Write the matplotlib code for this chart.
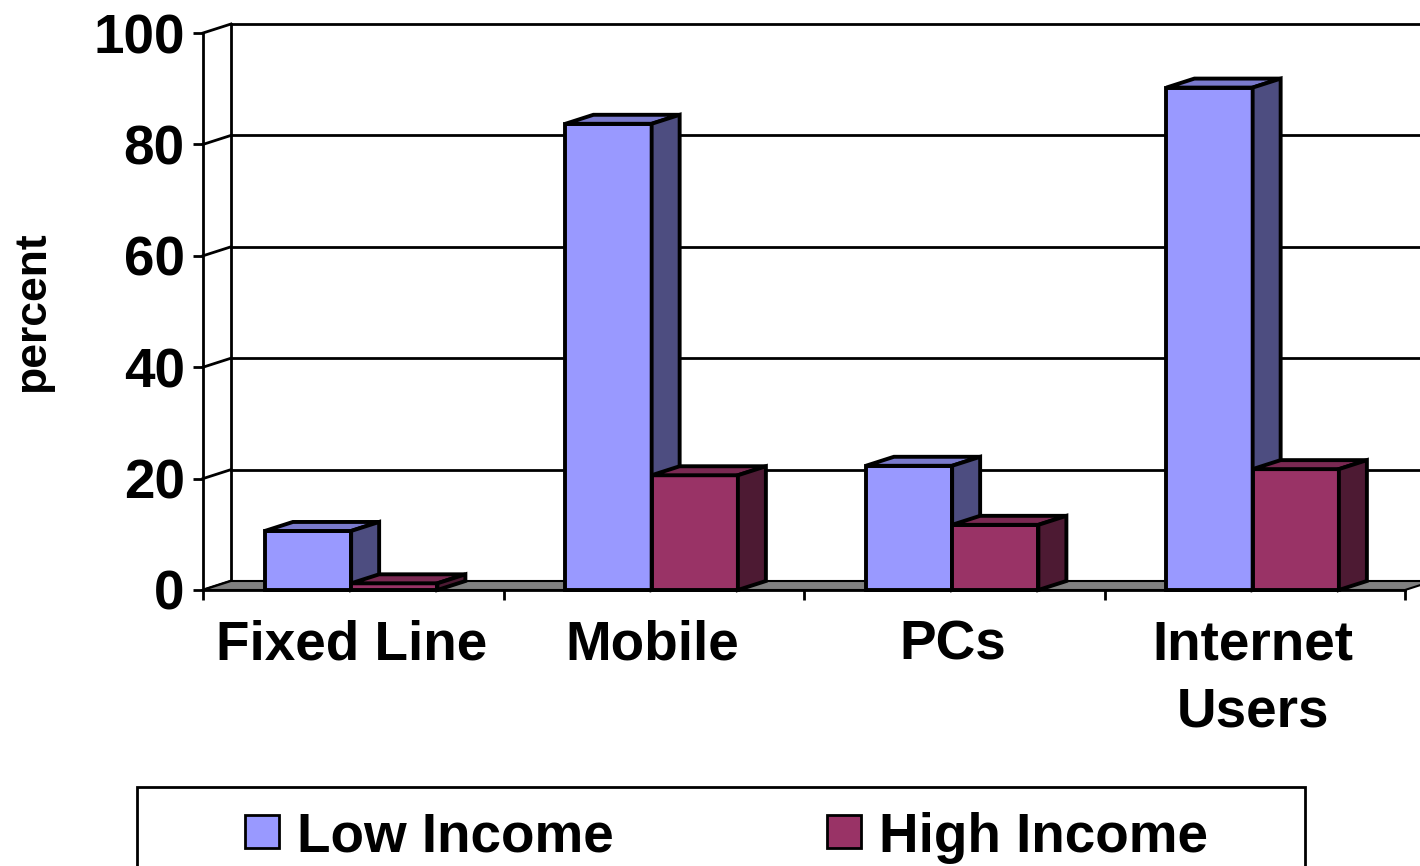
import numpy as np
from matplotlib import pyplot as plt
from matplotlib.patches import Polygon, Rectangle

plt.rcParams['font.family'] = 'sans-serif'
plt.rcParams['font.sans-serif'] = ['Liberation Sans']
plt.rcParams['font.weight'] = 'bold'
plt.rcParams['axes.labelweight'] = 'bold'

# data
categories = ["Fixed Line", "Mobile", "PCs", "Internet\nUsers"]
series_names = ["Low Income", "High Income"]
low_income = [10.6, 83.7, 22.3, 90.2]
high_income = [1.2, 20.6, 11.7, 21.7]
y_ticks = [0, 20, 40, 60, 80, 100]

front_colors = ["#9999FF", "#993366"]
top_colors = ["#7A7ACC", "#7A2952"]
side_colors = ["#4D4D80", "#4D1A33"]

W, H = 1420, 866
fig = plt.figure(figsize=(W / 100, H / 100), dpi=100)
ax = fig.add_axes([203 / W, 1 - 590 / H, (1405 - 203) / W, (590 - 33) / H])
ax.set_xlim(0, len(categories))
ax.set_ylim(0, 100)

# depth of the fake 3d box, in data units
dx = 28 / ((1405 - 203) / len(categories))
dy = 9 / ((590 - 33) / 100)
n = len(categories)
lw = 2.0
fs = 39.5

# back wall + left wall
for v in y_ticks:
    ax.plot([dx, n + dx + 0.2], [v + dy, v + dy], color='black', lw=lw, clip_on=False, zorder=1)
    ax.plot([0, dx], [v, v + dy], color='black', lw=lw, clip_on=False, zorder=1)
ax.plot([dx, dx], [dy, 100 + dy], color='black', lw=lw, clip_on=False, zorder=1)

# floor
ax.add_patch(Polygon([(0, 0), (n, 0), (n + dx, dy), (dx, dy)], closed=True,
                     fc='#808080', ec='black', lw=1.5, clip_on=False, zorder=2))

# bars
bar_w = 0.287
start = 0.206
for i in range(n):
    for s, vals in enumerate([low_income, high_income]):
        x0 = i + start + s * bar_w
        x1 = x0 + bar_w
        h = vals[i]
        kw = dict(closed=True, ec='black', lw=2.8, joinstyle='miter', clip_on=False, zorder=3)
        ax.add_patch(Polygon([(x0, 0), (x1, 0), (x1, h), (x0, h)], fc=front_colors[s], **kw))
        ax.add_patch(Polygon([(x0, h), (x1, h), (x1 + dx, h + dy), (x0 + dx, h + dy)], fc=top_colors[s], **kw))
        ax.add_patch(Polygon([(x1, 0), (x1 + dx, dy), (x1 + dx, h + dy), (x1, h)], fc=side_colors[s], **kw))

# axes
ax.spines['top'].set_visible(False)
ax.spines['right'].set_visible(False)
ax.spines['left'].set_linewidth(lw)
ax.spines['bottom'].set_linewidth(lw)
ax.spines['left'].set_zorder(4)
ax.spines['bottom'].set_zorder(4)

ax.set_yticks(y_ticks)
ax.tick_params(axis='y', direction='out', length=7.2, width=lw, pad=6, labelsize=fs)
ax.set_xticks(range(n + 1))
ax.set_xticklabels([])
ax.tick_params(axis='x', which='major', direction='out', length=7.2, width=lw)
ax.set_xticks([i + 0.495 for i in range(n)], minor=True)
ax.set_xticklabels(categories, minor=True, fontsize=fs, linespacing=1.38)
ax.tick_params(axis='x', which='minor', length=0, pad=21)

ax.set_ylabel("percent", fontsize=32, fontweight='bold', va='center')
ax.yaxis.set_label_coords(-0.142, 0.5)

# legend box, cut off at the bottom as in the original
fig.add_artist(Rectangle((137 / W, -0.1), (1305 - 137) / W, 0.1 + 1 - 787 / H,
                         transform=fig.transFigure, fill=False, ec='black', lw=2))
legend_x = [245, 827]
for s, name in enumerate(series_names):
    fig.add_artist(Rectangle((legend_x[s] / W, 1 - 848 / H), 34 / W, 33 / H,
                             transform=fig.transFigure, fc=front_colors[s], ec='black', lw=2))
    fig.text((legend_x[s] + 52) / W, 1 - 852 / H, name, fontsize=fs, va='baseline')

fig.savefig("out.png", dpi=100)
